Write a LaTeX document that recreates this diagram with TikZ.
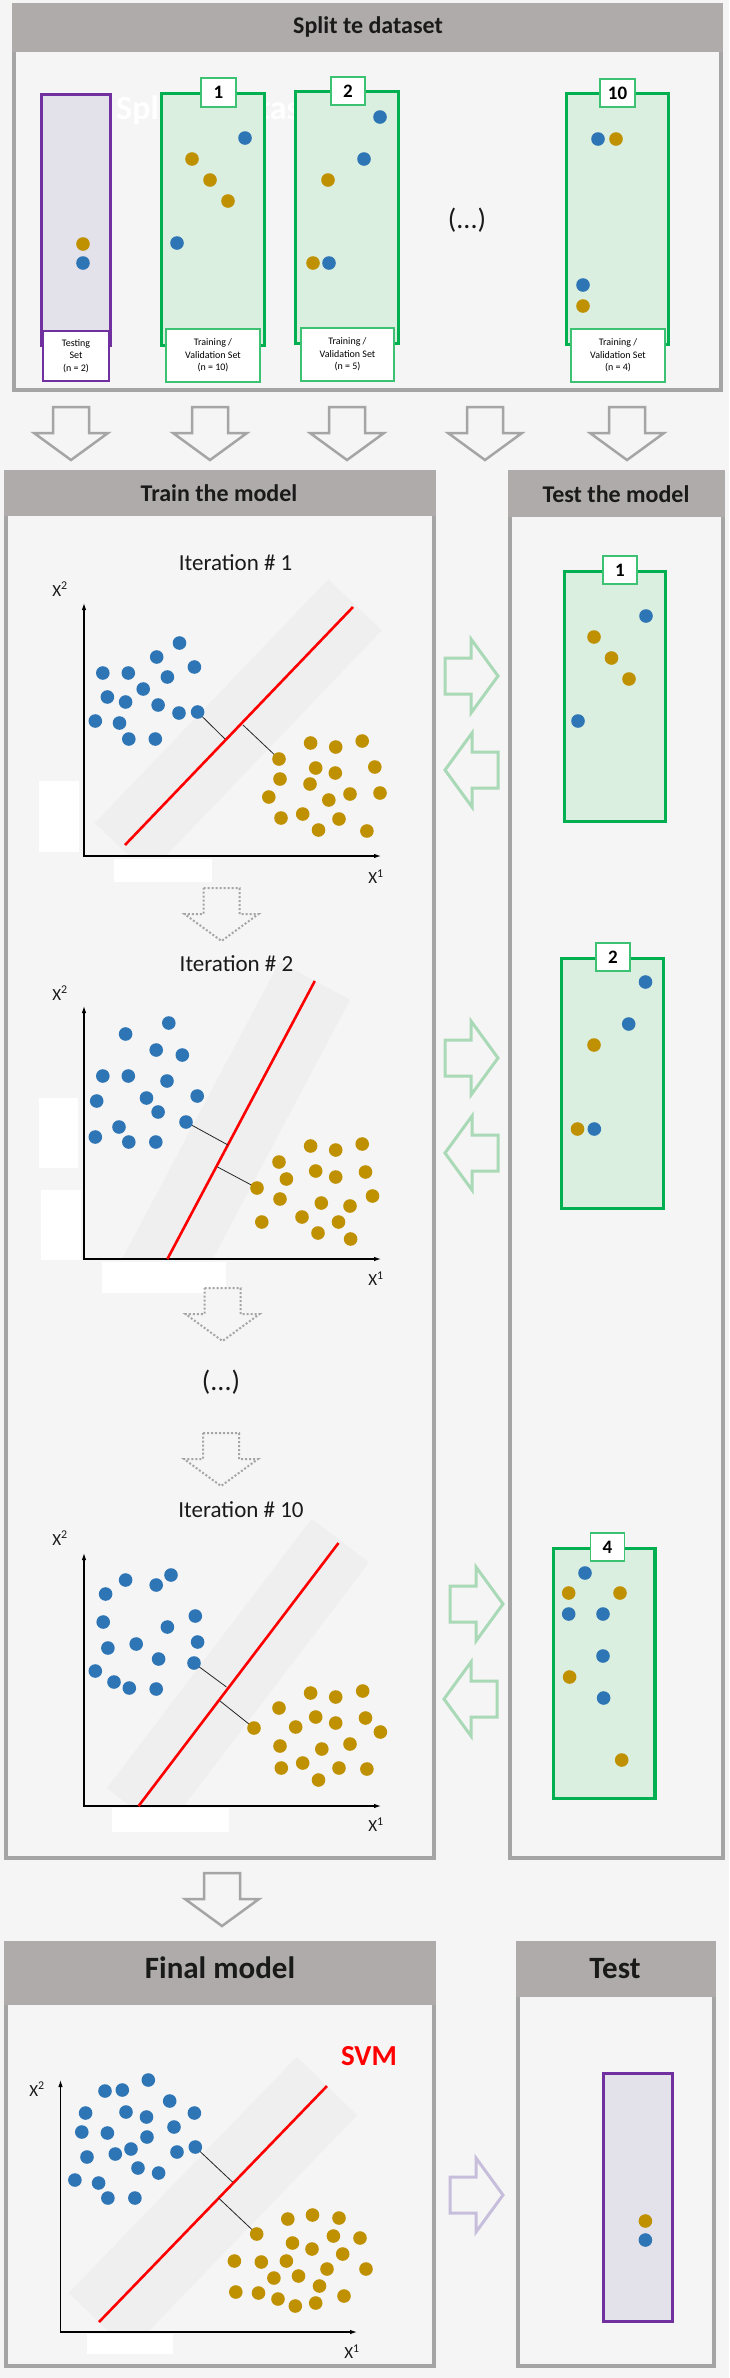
\documentclass[tikz,border=0pt]{standalone}
\usepackage{fontspec}
\setmainfont{Carlito}
\usetikzlibrary{arrows.meta}
\definecolor{bg}{HTML}{F5F5F5}
\definecolor{headgray}{HTML}{AFABAB}
\definecolor{secborder}{HTML}{A5A5A5}
\definecolor{bdotc}{HTML}{2E75B6}
\definecolor{odotc}{HTML}{BF9000}
\definecolor{greenb}{HTML}{00B050}
\definecolor{greenl}{HTML}{3DC172}
\definecolor{greenf}{HTML}{DBEFE0}
\definecolor{purpb}{HTML}{7030A0}
\definecolor{purpf}{HTML}{E3E1E9}
\definecolor{garrow}{HTML}{A9D9B6}
\definecolor{parrow}{HTML}{C7BEDC}
\definecolor{bandc}{HTML}{EFEFEF}
\definecolor{txt}{HTML}{1A1A1A}
\newcommand\fs[1]{\fontsize{#1}{#1}\selectfont}
\newcommand\placebox[7]{\node[#1, minimum width={#5-#3}, minimum height={#6-#4}] (#2) at ({(#3+#5)/2},{(#4+#6)/2}) {#7};}
\begin{document}
\begin{tikzpicture}[x=1pt,y=-1pt,
  secbody/.style={draw=secborder, line width=4pt, fill=bg, inner sep=0pt},
  headband/.style={fill=headgray},
  title/.style={font=\bfseries\fs{24}, text=txt, anchor=base, inner sep=0pt},
  bigtitle/.style={font=\bfseries\fs{31}, text=txt, anchor=base, inner sep=0pt},
  ghost/.style={font=\bfseries\fs{34}, text=white, anchor=base west, inner sep=0pt},
  greenfold/.style={draw=greenb, line width=3.5pt, fill=greenf, inner sep=0pt},
  purplefold/.style={draw=purpb, line width=3pt, fill=purpf, inner sep=0pt},
  glabel/.style={draw=greenl, line width=1.3pt, fill=white, align=center, font=\fontsize{10}{12.5}\selectfont, inner sep=0pt},
  plabel/.style={draw=purpb, line width=1.3pt, fill=white, align=center, font=\fontsize{10}{12.5}\selectfont, inner sep=0pt},
  numbox/.style={draw=greenl, line width=1.5pt, fill=white, font=\bfseries\fs{19}, inner sep=0pt},
  itertext/.style={font=\fs{23}, text=txt, anchor=base, inner sep=0pt},
  dots/.style={font=\fs{28}, text=txt, inner sep=0pt},
  axlabel/.style={font=\fs{17}, text=txt, inner sep=0pt},
  axisline/.style={draw=black, line width=1.1pt, arrows={Latex[length=7pt,width=4.5pt]-Latex[length=7pt,width=4.5pt]}},
  svmline/.style={draw=red, line width=2.6pt},
  svl/.style={draw=black!85, line width=0.8pt},
  band/.style={fill=bandc},
  patch/.style={fill=white},
  bdot/.style={fill=bdotc},
  odot/.style={fill=odotc},
  grayarrow/.style={draw=secborder, line width=2.5pt, fill=bg},
  dotarrow/.style={draw=secborder, line width=2pt, dotted, fill=bg},
  greenarrow/.style={draw=garrow, line width=3pt, fill=bg},
  purparrow/.style={draw=parrow, line width=3pt, fill=bg},
  blockarrow/.pic={\path[pic actions] (-18,0) -- (18,0) -- (18,26) -- (37,26) -- (0,53) -- (-37,26) -- (-18,26) -- cycle;}
]
\useasboundingbox (0,0) rectangle (729,2378);
\fill[bg] (0,0) rectangle (729,2378);

% ================= Split the dataset =================
\placebox{secbody}{split}{14}{5}{721}{390}{}
\fill[headband] (12,3) rectangle (723,52);
\node[title] (splitT) at (368,33.5) {Split te dataset};
\node[ghost] (ghostA) at (116,119) {Spli};
\node[ghost] (ghostB) at (258.2,119) {tas};

\placebox{purplefold}{tset}{41.5}{94.5}{110.5}{345.5}{}
\placebox{plabel}{tsetL}{43}{331}{109}{381}{Testing\\Set\\(n = 2)}

\placebox{greenfold}{f1}{161.7}{93.7}{264.3}{345.3}{}
\placebox{glabel}{f1L}{166}{329}{260}{382}{Training /\\Validation Set\\(n = 10)}
\placebox{numbox}{f1N}{201}{78}{236}{107}{1}

\placebox{greenfold}{f2}{295.7}{91.7}{398.3}{343.3}{}
\placebox{glabel}{f2L}{301}{328}{394}{381}{Training /\\Validation Set\\(n = 5)}
\placebox{numbox}{f2N}{331}{77}{365}{105}{2}

\node[dots] (splitdots) at (467,220) {(...)};

\placebox{greenfold}{f10}{566.7}{93.7}{668.3}{344.3}{}
\placebox{glabel}{f10L}{571}{329}{665}{382}{Training /\\Validation Set\\(n = 4)}
\placebox{numbox}{f10N}{600}{79}{635}{107}{10}

\foreach \x/\y in {83/263, 245/138, 177/243, 380/117, 364/159, 329/263, 598/139, 583/285}
  \fill[bdot] (\x,\y) circle[radius=6.8pt];
\foreach \x/\y in {83/244, 192/159, 210/180, 228/201, 328/180, 313/263, 616/139, 583/306}
  \fill[odot] (\x,\y) circle[radius=6.8pt];

% top arrows
\foreach \x in {71,210,347,485,627}
  \pic[grayarrow] at (\x,407) {blockarrow};

% ================= Train the model =================
\placebox{secbody}{train}{6}{472}{434}{1858}{}
\fill[headband] (4,470) rectangle (436,516);
\node[title] (trainT) at (219,501.5) {Train the model};

% ================= Test the model =================
\placebox{secbody}{test}{510}{472}{723}{1858}{}
\fill[headband] (508,470) rectangle (725,517);
\node[title] (testT) at (616,502) {Test the model};

% ---------- Plot 1 ----------
\begin{scope}
  \clip (84,560) rectangle (420,856);
  \fill[band] (94.82,823.01) -- (148.26,874.21) -- (381.80,630.43) -- (328.36,579.23) -- cycle;
\end{scope}
\node[itertext] (it1) at (235.6,570) {Iteration \# 1};
\fill[patch] (39,781) rectangle (79,852);
\fill[patch] (114,859) rectangle (212,882);
\coordinate (y1) at (84,603);
\coordinate (x1) at (381,856);
\draw[axisline] (y1) |- (x1);
\node[axlabel] (y1l) at (60,589) {X\textsuperscript{2}};
\node[axlabel] (x1l) at (376,877) {X\textsuperscript{1}};
\coordinate (r1a) at (125,845);
\coordinate (r1b) at (353,607);
\draw[svmline] (r1a) -- (r1b);
\coordinate (sv1b) at (197.6,712);
\coordinate (sv1bl) at (225,739);
\coordinate (sv1ol) at (243,725);
\coordinate (sv1o) at (279,759);
\draw[svl] (sv1b) -- (sv1bl);
\draw[svl] (sv1ol) -- (sv1o);
\foreach \x/\y in {179.5/643, 156.7/657, 194.4/667, 102.8/673, 128.3/673, 167.4/677, 143.2/689, 107.4/697, 125.6/702, 158.1/705, 179/713, 197.6/712, 95.3/721, 119.5/723, 128.8/739, 155.3/739}
  \fill[bdot] (\x,\y) circle[radius=6.8pt];
\foreach \x/\y in {279/759, 310.6/743, 335.7/747, 362.2/741, 280/779, 315.7/768, 335.3/773, 374.8/767, 310/784, 268.8/797, 328.8/800, 350/794, 380/793, 281/818, 302.7/814, 339/819, 318.5/830, 366.9/831}
  \fill[odot] (\x,\y) circle[radius=6.8pt];

\pic[dotarrow] at (221.5,888) {blockarrow};

% ---------- Plot 2 ----------
\begin{scope}
  \clip (84,940) rectangle (420,1259);
  \fill[band] (118,1266.8) -- (188.7,1304.2) -- (350.1,999.7) -- (279.5,962) -- cycle;
\end{scope}
\node[itertext] (it2) at (236.5,971) {Iteration \# 2};
\fill[patch] (38.6,1098) rectangle (78,1168);
\fill[patch] (41,1190) rectangle (81,1260);
\fill[patch] (102,1262) rectangle (226,1293);
\coordinate (y2) at (84,1006);
\coordinate (x2) at (381,1259);
\draw[axisline] (y2) |- (x2);
\node[axlabel] (y2l) at (60,993) {X\textsuperscript{2}};
\node[axlabel] (x2l) at (376,1279) {X\textsuperscript{1}};
\coordinate (r2a) at (167.4,1259);
\coordinate (r2b) at (314.8,981);
\draw[svmline] (r2a) -- (r2b);
\coordinate (sv2b) at (186,1122);
\coordinate (sv2bl) at (228,1145);
\coordinate (sv2ol) at (217.6,1167);
\coordinate (sv2o) at (257,1188);
\draw[svl] (sv2b) -- (sv2bl);
\draw[svl] (sv2ol) -- (sv2o);
\foreach \x/\y in {168.8/1023, 125.6/1034, 156.2/1050, 182.3/1055, 102.8/1076, 128.3/1076, 167/1081, 96.7/1101, 146.5/1098, 197.2/1096, 158.1/1112, 186/1122, 119/1127, 95.3/1137, 128.8/1142, 155.8/1142}
  \fill[bdot] (\x,\y) circle[radius=6.8pt];
\foreach \x/\y in {310.6/1146, 335.7/1150, 362.2/1144, 279/1162, 315.7/1171, 335.7/1177, 365.5/1172, 286.4/1179, 257/1188, 280/1199, 321.3/1203, 350/1206, 372.5/1196, 261.8/1222, 302/1217, 338.5/1222, 318/1233, 350.6/1239}
  \fill[odot] (\x,\y) circle[radius=6.8pt];

\pic[dotarrow] at (222.5,1288) {blockarrow};
\node[dots] (traindots) at (221,1382) {(...)};
\pic[dotarrow] at (221,1433) {blockarrow};

% ---------- Plot 3 ----------
\begin{scope}
  \clip (84,1500) rectangle (420,1806);
  \fill[band] (106.91,1788.19) -- (164.23,1831.77) -- (368.98,1562.4) -- (311.66,1518.82) -- cycle;
\end{scope}
\node[itertext] (it3) at (241,1517) {Iteration \# 10};
\fill[patch] (111.6,1808) rectangle (229,1832);
\coordinate (y3) at (84,1553);
\coordinate (x3) at (381,1806);
\draw[axisline] (y3) |- (x3);
\node[axlabel] (y3l) at (60,1538) {X\textsuperscript{2}};
\node[axlabel] (x3l) at (376,1825) {X\textsuperscript{1}};
\coordinate (r3a) at (138.6,1806);
\coordinate (r3b) at (338.5,1543);
\draw[svmline] (r3a) -- (r3b);
\coordinate (sv3b) at (194,1663);
\coordinate (sv3bl) at (226.5,1687);
\coordinate (sv3ol) at (220,1701);
\coordinate (sv3o) at (254,1728);
\draw[svl] (sv3b) -- (sv3bl);
\draw[svl] (sv3ol) -- (sv3o);
\foreach \x/\y in {171/1575, 125.6/1580, 156.2/1585, 105.6/1594, 195.3/1616, 103.2/1622, 167.4/1627, 197.6/1642, 107.9/1648, 136.2/1644, 158.6/1659, 194/1663, 95.3/1671, 114/1682, 129.3/1688, 156.2/1689}
  \fill[bdot] (\x,\y) circle[radius=6.8pt];
\foreach \x/\y in {310.6/1693, 335.7/1697, 362.7/1691, 279/1708, 315.7/1717, 335.7/1723, 365.5/1718, 295.7/1727, 254/1728, 380.4/1732, 280/1746, 321.8/1749, 350/1744, 281.3/1768, 302.7/1763, 339/1768, 366.9/1769, 318.5/1780}
  \fill[odot] (\x,\y) circle[radius=6.8pt];

% ---------- Test folds ----------
\placebox{greenfold}{t1}{564.4}{571.7}{665.3}{821.3}{}
\placebox{numbox}{t1N}{603}{556}{637}{584}{1}
\placebox{greenfold}{t2}{561.7}{958.7}{663.3}{1208.3}{}
\placebox{numbox}{t2N}{596}{943}{630}{971}{2}
\placebox{greenfold}{t4}{553.7}{1548.7}{654.9}{1798.3}{}
\placebox{numbox}{t4N}{590.5}{1533}{624.5}{1561}{4}
\foreach \x/\y in {646/616, 578/721, 645.5/982, 628.7/1024, 594.3/1129, 585/1573, 568.7/1614, 603/1614, 603/1656, 603.6/1698}
  \fill[bdot] (\x,\y) circle[radius=6.8pt];
\foreach \x/\y in {594/637, 611.5/658, 629/679, 594/1045, 577.5/1129, 568.7/1593, 620/1593, 569.6/1677, 621.7/1760}
  \fill[odot] (\x,\y) circle[radius=6.8pt];

% green exchange arrows
\pic[greenarrow, rotate=90] at (445,676) {blockarrow};
\pic[greenarrow, rotate=-90] at (498,770) {blockarrow};
\pic[greenarrow, rotate=90] at (445,1058) {blockarrow};
\pic[greenarrow, rotate=-90] at (498,1153) {blockarrow};
\pic[greenarrow, rotate=90] at (450,1604) {blockarrow};
\pic[greenarrow, rotate=-90] at (497,1699) {blockarrow};

% down arrow to final
\pic[grayarrow] at (222,1873) {blockarrow};

% ================= Final model =================
\placebox{secbody}{final}{6}{1943}{434}{2366}{}
\fill[headband] (4,1941) rectangle (436,2005);
\node[bigtitle] (finalT) at (220,1978) {Final model};

\placebox{secbody}{ftest}{518}{1943}{714}{2366}{}
\fill[headband] (516,1941) rectangle (716,1997);
\node[bigtitle] (ftestT) at (615,1978) {Test};

\begin{scope}
  \clip (61,2040) rectangle (420,2332);
  \fill[band] (68.8,2292.8) -- (129.2,2351.2) -- (357.2,2115.2) -- (296.8,2056.8) -- cycle;
\end{scope}
\node[font=\bfseries\fs{29}, text=red, anchor=base, inner sep=0pt] (svm) at (369,2065) {SVM};
\fill[patch] (87,2334) rectangle (173,2354);
\coordinate (y4) at (60.5,2080);
\coordinate (x4) at (357,2332);
\draw[axisline] (y4) |- (x4);
\node[axlabel] (y4l) at (37,2089) {X\textsuperscript{2}};
\node[axlabel] (x4l) at (352,2352) {X\textsuperscript{1}};
\coordinate (r4a) at (99,2322);
\coordinate (r4b) at (327,2086);
\draw[svmline] (r4a) -- (r4b);
\coordinate (sv4b) at (195.3,2147);
\coordinate (sv4bl) at (232.5,2182);
\coordinate (sv4ol) at (218.6,2198);
\coordinate (sv4o) at (256.7,2234);
\draw[svl] (sv4b) -- (sv4bl);
\draw[svl] (sv4ol) -- (sv4o);
\foreach \x/\y in {148.3/2080, 105/2091, 122.3/2090, 169.7/2101, 85.6/2113, 126/2112, 146.5/2117, 194.4/2113, 174/2127, 81.8/2132, 107.4/2133, 147/2137, 131/2149, 87/2157, 115.3/2154, 177/2152, 195.3/2147, 138/2168, 158.6/2173, 74.9/2180, 98.6/2183, 107.9/2198, 134.9/2198}
  \fill[bdot] (\x,\y) circle[radius=6.8pt];
\foreach \x/\y in {287.8/2219, 312.5/2215, 339/2218, 256.7/2234, 333.4/2236, 360/2238, 292.5/2243, 312/2249, 342.7/2254, 234.4/2261, 261.3/2262, 286.4/2261, 327/2269, 366/2269, 273.9/2278, 298.5/2276, 319.5/2286, 235.8/2292, 258.5/2293, 278/2299, 295.3/2306, 315.7/2303, 344/2296}
  \fill[odot] (\x,\y) circle[radius=6.8pt];

\pic[purparrow, rotate=90] at (450,2195) {blockarrow};

\placebox{purplefold}{fts}{603.5}{2073.5}{672.5}{2321.5}{}
\fill[odot] (645.4,2221) circle[radius=6.8pt];
\fill[bdot] (645.4,2240) circle[radius=6.8pt];
\end{tikzpicture}
\end{document}
